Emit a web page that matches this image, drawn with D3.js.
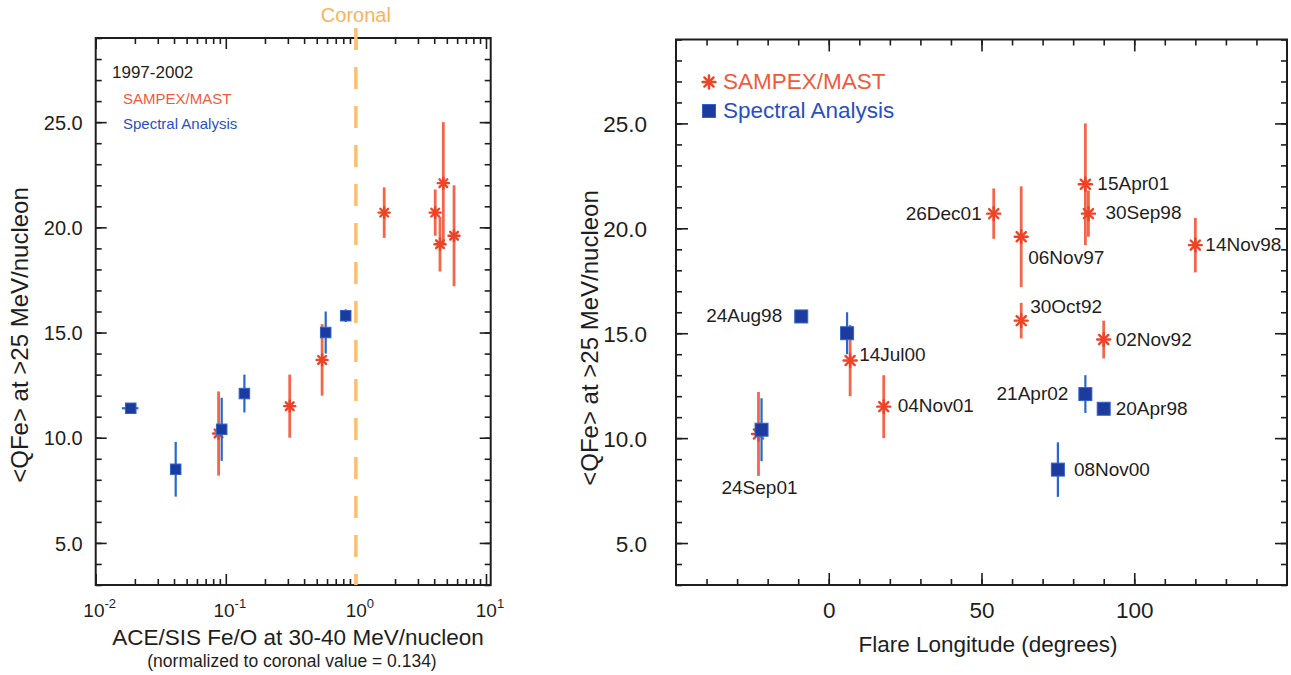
<!DOCTYPE html>
<html>
<head>
<meta charset="utf-8">
<script src="https://cdn.jsdelivr.net/npm/d3@7"></script>
<style>
  body { margin: 0; background: #fff; }
  svg text { font-family: "Liberation Sans", Arial, Helvetica, sans-serif; }
</style>
</head>
<body>
<svg id="chart" width="1291" height="675"></svg>
<script>
// ---- SAMPEX/MAST mean iron charge states ----
const samLabels    = ["24Sep01", "04Nov01", "14Jul00", "26Dec01", "30Sep98", "15Apr01", "14Nov98", "06Nov97", "30Oct92", "02Nov92"];
const samLongitude = [-23, 18, 7, 54, 85, 84, 120, 63, 63, 90];
const samFeO       = [0.088, 0.31, 0.55, 1.65, 4.07, 4.7, 4.43, 5.68, null, null];
const samQ         = [10.2, 11.5, 13.7, 20.7, 20.7, 22.1, 19.2, 19.6, 15.6, 14.7];
const samErr       = [2.0, 1.5, 1.7, 1.2, 1.1, 2.9, 1.3, 2.4, 0.85, 0.9];

// ---- Spectral-analysis mean iron charge states ----
const specLabels    = ["20Apr98", "08Nov00", "24Sep01", "21Apr02", "14Jul00", "24Aug98"];
const specLongitude = [90, 75, -22, 84, 6, -9];
const specFeO       = [0.0186, 0.0412, 0.093, 0.139, 0.586, 0.835];
const specFeOErr    = [0.0027, 0, 0, 0, 0, 0.06];
const specQ         = [11.4, 8.5, 10.4, 12.1, 15.0, 15.8];
const specErr       = [0.1, 1.3, 1.5, 0.9, 1.0, 0.3];

// ---- axis ticks ----
const qTicks      = [5, 10, 15, 20, 25];
const qMinorTicks = d3.range(3, 30, 1);
const feoDecades  = [0.01, 0.1, 1, 10];
const lonTicks    = [0, 50, 100];
const lonMinor    = d3.range(-40, 150, 10);
const coronalRatio = 1;

// ---- styling ----
const INK = "#1e1e1e";
const RED = "#ee4327", RED_BAR = "#f2674a", RED_TEXT = "#f05a3c";
const BLUE = "#1d3b9d", BLUE_EDGE = "#2f63cc", BLUE_BAR = "#2767c8", BLUE_TEXT = "#2a4fc0";
const ORANGE = "#fbbf70";

const svg = d3.select("#chart");
svg.append("rect").attr("width", 1291).attr("height", 675).attr("fill", "#ffffff");

// panel boxes (pixel frames of the two plots)
const L = { x0: 95.7, x1: 490.7, y0: 38, y1: 585 };
const R = { x0: 676, x1: 1287, y0: 39.5, y1: 585 };

const xL = d3.scaleLog().domain([0.01, 10.87]).range([L.x0, L.x1]);
const yL = d3.scaleLinear().domain([3, 29]).range([L.y1, L.y0]);
const xR = d3.scaleLinear().domain([-50, 150]).range([R.x0, R.x1]);
const yR = d3.scaleLinear().domain([3, 29]).range([R.y1, R.y0]);

const logMinor = d3.scaleLog().domain([0.01, 10]).ticks()
  .filter(v => !feoDecades.some(d => Math.abs(d - v) < 1e-9));

function styleTicks(g, width) {
  g.select(".domain").remove();
  g.selectAll(".tick line").attr("stroke", INK).attr("stroke-width", width);
}

// mirrored, inward-pointing ticks on all four sides plus the box
function drawFrame(box, x, y, cfg) {
  const g = svg.append("g");
  [{ vals: cfg.xMinor, len: cfg.minorLen }, { vals: cfg.xMajor, len: cfg.majorLen }].forEach(s => {
    g.append("g").attr("transform", `translate(0,${box.y1})`)
      .call(d3.axisBottom(x).tickValues(s.vals).tickSize(-s.len).tickFormat(""))
      .call(a => styleTicks(a, 1.6));
    g.append("g").attr("transform", `translate(0,${box.y0})`)
      .call(d3.axisTop(x).tickValues(s.vals).tickSize(-s.len).tickFormat(""))
      .call(a => styleTicks(a, 1.6));
  });
  [{ vals: cfg.yMinor, len: cfg.minorLen }, { vals: cfg.yMajor, len: cfg.majorLen }].forEach(s => {
    g.append("g").attr("transform", `translate(${box.x0},0)`)
      .call(d3.axisLeft(y).tickValues(s.vals).tickSize(-s.len).tickFormat(""))
      .call(a => styleTicks(a, 1.6));
    g.append("g").attr("transform", `translate(${box.x1},0)`)
      .call(d3.axisRight(y).tickValues(s.vals).tickSize(-s.len).tickFormat(""))
      .call(a => styleTicks(a, 1.6));
  });
  // y tick labels
  const yl = g.append("g").attr("transform", `translate(${box.x0},0)`)
    .call(d3.axisLeft(y).tickValues(cfg.yMajor).tickSize(0).tickPadding(cfg.yPad).tickFormat(d3.format(".1f")));
  yl.select(".domain").remove();
  yl.selectAll("text").attr("font-size", cfg.fontSize).attr("fill", INK)
    .attr("font-family", '"Liberation Sans", Arial, sans-serif').attr("dy", "0.36em");
  g.append("rect").attr("x", box.x0).attr("y", box.y0)
    .attr("width", box.x1 - box.x0).attr("height", box.y1 - box.y0)
    .attr("fill", "none").attr("stroke", INK).attr("stroke-width", 2);
  return g;
}

function asterisk(g, cx, cy, r, color, w) {
  [0, 45, 90, 135].forEach(a => {
    const t = a * Math.PI / 180;
    g.append("line")
      .attr("x1", cx - r * Math.cos(t)).attr("y1", cy - r * Math.sin(t))
      .attr("x2", cx + r * Math.cos(t)).attr("y2", cy + r * Math.sin(t))
      .attr("stroke", color).attr("stroke-width", w).attr("stroke-linecap", "round");
  });
}

function square(g, cx, cy, s) {
  g.append("rect").attr("x", cx - s / 2).attr("y", cy - s / 2)
    .attr("width", s).attr("height", s)
    .attr("fill", BLUE).attr("stroke", BLUE_EDGE).attr("stroke-width", 1);
}

function vbar(g, x, y0, y1, color, w) {
  g.append("line").attr("x1", x).attr("x2", x).attr("y1", y0).attr("y2", y1)
    .attr("stroke", color).attr("stroke-width", w);
}

// ================= LEFT PANEL: charge state vs Fe/O =================
drawFrame(L, xL, yL, {
  xMajor: feoDecades, xMinor: logMinor, yMajor: qTicks, yMinor: qMinorTicks,
  majorLen: 11, minorLen: 6, fontSize: 20, yPad: 13
});

// log decade labels 10^n
feoDecades.forEach(v => {
  const t = svg.append("text").attr("x", xL(v) + 4).attr("y", 617)
    .attr("text-anchor", "middle").attr("fill", INK);
  t.append("tspan").attr("font-size", 19).text("10");
  t.append("tspan").attr("font-size", 13).attr("dy", -9).text(String(Math.round(Math.log10(v))));
});

// coronal reference ratio
svg.append("line")
  .attr("x1", xL(coronalRatio)).attr("x2", xL(coronalRatio))
  .attr("y1", 28).attr("y2", L.y1)
  .attr("stroke", ORANGE).attr("stroke-width", 3.5).attr("stroke-dasharray", "22,17");
svg.append("text").attr("x", xL(coronalRatio)).attr("y", 22).attr("text-anchor", "middle")
  .attr("font-size", 20).attr("fill", "#f8b45c").text("Coronal");

const gL = svg.append("g");
samQ.forEach((q, i) => {
  if (samFeO[i] == null) return;
  vbar(gL, xL(samFeO[i]), yL(q - samErr[i]), yL(q + samErr[i]), RED_BAR, 2.8);
});
samQ.forEach((q, i) => {
  if (samFeO[i] == null) return;
  asterisk(gL, xL(samFeO[i]), yL(q), 5.5, RED, 2.4);
});
specQ.forEach((q, i) => {
  const cx = xL(specFeO[i]);
  vbar(gL, cx, yL(q - specErr[i]), yL(q + specErr[i]), BLUE_BAR, 2.2);
  if (specFeOErr[i] > 0) {
    gL.append("line")
      .attr("x1", xL(specFeO[i] - specFeOErr[i])).attr("x2", xL(specFeO[i] + specFeOErr[i]))
      .attr("y1", yL(q)).attr("y2", yL(q))
      .attr("stroke", BLUE_BAR).attr("stroke-width", 2.2);
  }
  square(gL, cx, yL(q), 10.5);
});

// left legend
svg.append("text").attr("x", 112).attr("y", 78).attr("font-size", 17).attr("fill", INK).text("1997-2002");
svg.append("text").attr("x", 123).attr("y", 104).attr("font-size", 15).attr("fill", RED_TEXT).text("SAMPEX/MAST");
svg.append("text").attr("x", 123).attr("y", 129).attr("font-size", 15).attr("fill", BLUE_TEXT).text("Spectral Analysis");

// left axis titles
svg.append("text").attr("transform", "translate(28,335) rotate(-90)").attr("text-anchor", "middle")
  .attr("font-size", 24).attr("fill", INK).text("<QFe> at >25 MeV/nucleon");
svg.append("text").attr("x", 298).attr("y", 645).attr("text-anchor", "middle")
  .attr("font-size", 22.5).attr("fill", INK).text("ACE/SIS Fe/O at 30-40 MeV/nucleon");
svg.append("text").attr("x", 292).attr("y", 667).attr("text-anchor", "middle")
  .attr("font-size", 17.5).attr("fill", INK).text("(normalized to coronal value = 0.134)");

// ================= RIGHT PANEL: charge state vs flare longitude =================
drawFrame(R, xR, yR, {
  xMajor: lonTicks, xMinor: lonMinor, yMajor: qTicks, yMinor: qMinorTicks,
  majorLen: 12, minorLen: 6, fontSize: 22.5, yPad: 29
});
const xl = svg.append("g").attr("transform", `translate(0,${R.y1})`)
  .call(d3.axisBottom(xR).tickValues(lonTicks).tickSize(0).tickPadding(17).tickFormat(d3.format("d")));
xl.select(".domain").remove();
xl.selectAll("text").attr("font-size", 22.5).attr("fill", INK)
  .attr("font-family", '"Liberation Sans", Arial, sans-serif');

const gR = svg.append("g");
samQ.forEach((q, i) => vbar(gR, xR(samLongitude[i]), yR(q - samErr[i]), yR(q + samErr[i]), RED_BAR, 2.8));
samQ.forEach((q, i) => asterisk(gR, xR(samLongitude[i]), yR(q), 6.5, RED, 2.4));
specQ.forEach((q, i) => {
  const cx = xR(specLongitude[i]);
  vbar(gR, cx, yR(q - specErr[i]), yR(q + specErr[i]), BLUE_BAR, 2.2);
  square(gR, cx, yR(q), 13);
});

// event labels: offset from the marker they name
const labelLayout = {
  "26Dec01": { src: "sam",  dx: -12, dy: 6,  anchor: "end" },
  "15Apr01": { src: "sam",  dx: 12,  dy: 6,  anchor: "start" },
  "30Sep98": { src: "sam",  dx: 17,  dy: 5,  anchor: "start" },
  "06Nov97": { src: "sam",  dx: 7,   dy: 27, anchor: "start" },
  "14Nov98": { src: "sam",  dx: 10,  dy: 6,  anchor: "start" },
  "30Oct92": { src: "sam",  dx: 9,   dy: -8, anchor: "start" },
  "02Nov92": { src: "sam",  dx: 12,  dy: 6,  anchor: "start" },
  "14Jul00": { src: "sam",  dx: 9,   dy: 0,  anchor: "start" },
  "04Nov01": { src: "sam",  dx: 14,  dy: 5,  anchor: "start" },
  "24Sep01": { src: "sam",  dx: 1,   dy: 60, anchor: "middle" },
  "21Apr02": { src: "spec", dx: -17, dy: 6,  anchor: "end" },
  "20Apr98": { src: "spec", dx: 12,  dy: 6,  anchor: "start" },
  "08Nov00": { src: "spec", dx: 16,  dy: 6,  anchor: "start" },
  "24Aug98": { src: "spec", dx: -19, dy: 6,  anchor: "end" }
};
Object.entries(labelLayout).forEach(([name, p]) => {
  let lon, q;
  if (p.src === "sam") { const i = samLabels.indexOf(name); lon = samLongitude[i]; q = samQ[i]; }
  else { const i = specLabels.indexOf(name); lon = specLongitude[i]; q = specQ[i]; }
  svg.append("text").attr("x", xR(lon) + p.dx).attr("y", yR(q) + p.dy)
    .attr("text-anchor", p.anchor).attr("font-size", 19).attr("fill", INK).text(name);
});

// right legend
asterisk(svg, 709, 82, 6.5, RED, 2.4);
svg.append("text").attr("x", 723).attr("y", 89).attr("font-size", 22.5).attr("fill", RED_TEXT).text("SAMPEX/MAST");
square(svg, 709, 111, 13);
svg.append("text").attr("x", 723).attr("y", 118).attr("font-size", 22.5).attr("fill", BLUE_TEXT).text("Spectral Analysis");

// right axis titles
svg.append("text").attr("transform", "translate(598,338) rotate(-90)").attr("text-anchor", "middle")
  .attr("font-size", 24).attr("fill", INK).text("<QFe> at >25 MeV/nucleon");
svg.append("text").attr("x", 988).attr("y", 652).attr("text-anchor", "middle")
  .attr("font-size", 22.5).attr("fill", INK).text("Flare Longitude (degrees)");
</script>
</body>
</html>
